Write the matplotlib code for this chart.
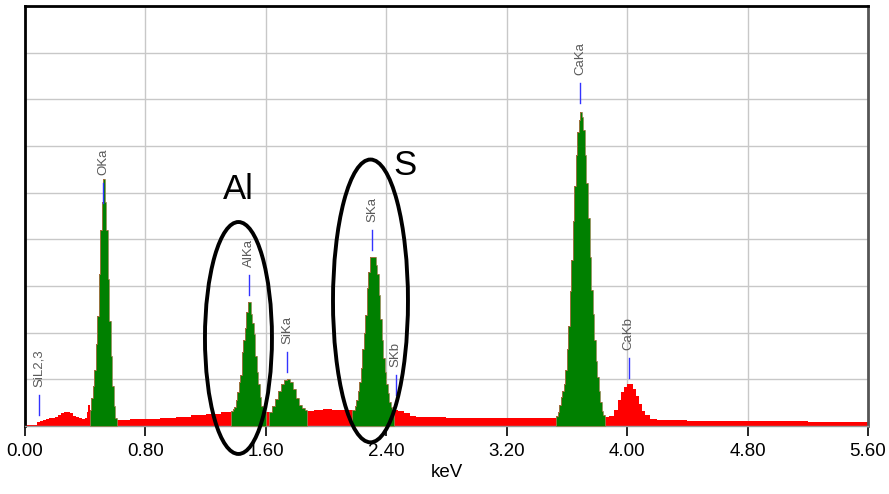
import numpy as np
import matplotlib
matplotlib.use("Agg")
import matplotlib.pyplot as plt
from matplotlib.patches import Ellipse

plt.rcParams['font.family'] = ['Liberation Sans', 'DejaVu Sans']

# spectrum: energy (keV) and height (grid units), drawn as steps
energy = [
    0.00, 0.08, 0.10, 0.12, 0.14, 0.16, 0.18, 0.20, 0.22, 0.24, 0.26, 0.28, 0.30, 0.32,
    0.34, 0.36, 0.38, 0.40, 0.41, 0.42,
    0.43, 0.44, 0.45, 0.46, 0.47, 0.48, 0.49, 0.50, 0.51, 0.52, 0.53, 0.54, 0.55, 0.56,
    0.57, 0.58, 0.59, 0.60,
    0.61, 0.70, 0.80, 0.90, 1.00, 1.10, 1.20, 1.30,
    1.37, 1.38, 1.39, 1.40, 1.41, 1.42, 1.43, 1.44, 1.45, 1.46, 1.47, 1.48, 1.49, 1.50,
    1.51, 1.52, 1.53, 1.54, 1.55, 1.56, 1.57, 1.58, 1.59, 1.60,
    1.62, 1.64, 1.66, 1.68, 1.70, 1.72, 1.74, 1.76, 1.78, 1.80, 1.82, 1.84, 1.86,
    1.87, 1.92, 1.98, 2.04, 2.10,
    2.17, 2.19, 2.20, 2.21, 2.22, 2.23, 2.24, 2.25, 2.26, 2.27, 2.28, 2.29, 2.30, 2.31,
    2.32, 2.33, 2.34, 2.35, 2.36, 2.37, 2.38, 2.39, 2.40, 2.41, 2.42, 2.43, 2.44,
    2.45, 2.48, 2.52, 2.56, 2.60, 2.80, 3.00, 3.20, 3.40,
    3.53, 3.54, 3.55, 3.56, 3.57, 3.58, 3.59, 3.60, 3.61, 3.62, 3.63, 3.64, 3.65, 3.66,
    3.67, 3.68, 3.69, 3.70, 3.71, 3.72, 3.73, 3.74, 3.75, 3.76, 3.77, 3.78, 3.79, 3.80,
    3.81, 3.82, 3.83, 3.84,
    3.85, 3.88, 3.91, 3.94, 3.96, 3.98, 4.00, 4.02, 4.04, 4.06, 4.08, 4.10, 4.12, 4.15,
    4.20, 4.40, 4.80, 5.20, 5.60,
]
counts = [
    0.02, 0.09, 0.11, 0.12, 0.15, 0.17, 0.18, 0.20, 0.23, 0.27, 0.30, 0.31, 0.27, 0.22,
    0.19, 0.17, 0.15, 0.17, 0.30, 0.45,
    0.35, 0.60, 0.85, 1.20, 1.75, 2.35, 3.25, 4.20, 4.80, 5.29, 4.80, 4.20, 3.15, 2.25,
    1.50, 0.85, 0.42, 0.18,
    0.13, 0.14, 0.16, 0.18, 0.20, 0.23, 0.26, 0.29,
    0.33, 0.36, 0.40, 0.55, 0.73, 0.95, 1.10, 1.58, 1.85, 2.10, 2.44, 2.65, 2.65, 2.41,
    2.20, 1.98, 1.50, 1.15, 0.90, 0.62, 0.42, 0.33, 0.30, 0.30,
    0.31, 0.42, 0.58, 0.76, 0.90, 0.98, 1.00, 0.94, 0.79, 0.60, 0.46, 0.39, 0.35,
    0.33, 0.35, 0.37, 0.35, 0.34,
    0.34, 0.42, 0.55, 0.75, 0.95, 1.24, 1.65, 2.00, 2.38, 2.95, 3.30, 3.63, 3.63, 3.63,
    3.63, 3.45, 3.25, 2.80, 2.30, 1.84, 1.45, 1.15, 0.90, 0.70, 0.52, 0.40, 0.34,
    0.34, 0.33, 0.28, 0.22, 0.20, 0.18, 0.17, 0.17, 0.17,
    0.22, 0.30, 0.45, 0.63, 0.75, 0.90, 1.20, 1.65, 2.15, 2.90, 3.55, 4.40, 5.15, 5.80,
    6.30, 6.55, 6.73, 6.63, 6.34, 5.80, 5.20, 4.45, 3.63, 2.91, 2.40, 1.85, 1.40, 1.05,
    0.75, 0.52, 0.32, 0.24,
    0.19, 0.22, 0.34, 0.55, 0.72, 0.84, 0.89, 0.90, 0.80, 0.65, 0.48, 0.33, 0.24, 0.15,
    0.12, 0.11, 0.10, 0.09, 0.07,
]

# regions of interest shown in green
roi_lo = [0.43, 1.37, 1.62, 2.17, 3.53]
roi_hi = [0.61, 1.60, 1.87, 2.45, 3.85]

# line markers
line_names = ['SiL2,3', 'OKa', 'AlKa', 'SiKa', 'SKa', 'SKb', 'CaKa', 'CaKb']
line_kev = [0.09, 0.52, 1.486, 1.74, 2.307, 2.464, 3.69, 4.01]
line_base = [0.24, 4.78, 2.81, 1.16, 3.77, 0.66, 6.92, 1.03]

xticks = [0.0, 0.8, 1.6, 2.4, 3.2, 4.0, 4.8, 5.6]

E = np.array(energy)
C = np.array(counts)

fig = plt.figure(figsize=(8.89, 4.94), dpi=100)
ax = fig.add_axes([25/889, 1-426/494, 843/889, 420/494])

ax.fill_between(E, C, step='post', color='#ff0000', linewidth=0, zorder=2)
for lo, hi in zip(roi_lo, roi_hi):
    m = (E >= lo - 1e-9) & (E <= hi + 1e-9)
    ax.fill_between(E[m], C[m], step='post', facecolor='#008000',
                    edgecolor='#a08a5a', linewidth=0.5, zorder=3)

for name, e, b in zip(line_names, line_kev, line_base):
    ax.plot([e, e], [b, b + 0.43], color='#3333ff', lw=1.0, zorder=4)
    ax.text(e, b + 0.6, name, rotation=90, ha='center', va='bottom',
            fontsize=9.5, color='#5a5a5a', zorder=5)

# hand drawn ellipses and labels
ax.add_patch(Ellipse((1.418, 1.886), 0.445, 4.97, fill=False, lw=2.8,
                     color='black', clip_on=False, zorder=6))
ax.add_patch(Ellipse((2.295, 2.68), 0.498, 6.06, fill=False, lw=2.8,
                     color='black', clip_on=False, zorder=6))
ax.text(1.418, 5.06, 'Al', fontsize=25, ha='center', va='center', zorder=6)
ax.text(2.525, 5.58, 'S', fontsize=25, ha='center', va='center', zorder=6)

ax.set_xlim(0, 5.6)
ax.set_ylim(0, 9)
ax.set_xticks(xticks)
ax.set_xticklabels(['%.2f' % t for t in xticks], fontsize=13.5)
ax.set_yticks(range(10))
ax.set_yticklabels([])
ax.tick_params(axis='y', length=0)
ax.tick_params(axis='x', length=7, width=1.2, color='black', pad=5)
ax.grid(True, color='#c8c8c8', lw=1, zorder=0)
ax.set_axisbelow(True)
ax.set_xlabel('keV', fontsize=13.5, labelpad=3)

ax.spines['left'].set_linewidth(2)
ax.spines['top'].set_linewidth(2)
ax.spines['right'].set_linewidth(2)
ax.spines['right'].set_color('#555555')
ax.spines['bottom'].set_linewidth(1)
ax.spines['bottom'].set_color('#999999')

fig.savefig('out.png', dpi=100)
